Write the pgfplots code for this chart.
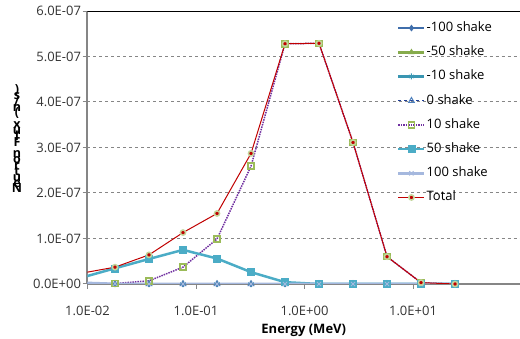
\documentclass[border=0pt]{standalone}
\usepackage{fontspec}
\setmainfont{Open Sans}
\usepackage{pgfplots}
\pgfplotsset{compat=1.18}
\definecolor{axgray}{HTML}{868686}
\definecolor{cA}{HTML}{3F6EAB}
\definecolor{cB}{HTML}{86AB4C}
\definecolor{cC}{HTML}{3A96B2}
\definecolor{cDline}{HTML}{1F3F99}
\definecolor{cDmark}{HTML}{4F81BD}
\definecolor{cEline}{HTML}{7030A0}
\definecolor{cEmark}{HTML}{9BBB59}
\definecolor{cF}{HTML}{4BACC6}
\definecolor{cG}{HTML}{A5B8DE}
\definecolor{cT}{HTML}{C00000}
\definecolor{cTring}{HTML}{C3D69B}
\begin{document}
\begin{tikzpicture}[x=1pt,y=1pt]
\useasboundingbox (0,0) rectangle (520,339);
\begin{axis}[
  at={(87.5pt,55pt)}, anchor=south west,
  scale only axis, width=432.5pt, height=273pt,
  xmode=log, xmin=0.01, xmax=96.8, ymin=0, ymax=6e-7,
  axis lines*=left,
  axis line style={draw=axgray, line width=2pt},
  xtick={0.01,0.1,1,10},
  xticklabels={1.0E-02,1.0E-01,1.0E+00,1.0E+01},
  ytick={0,1e-7,2e-7,3e-7,4e-7,5e-7,6e-7},
  yticklabels={0.0E+00,1.0E-07,2.0E-07,3.0E-07,4.0E-07,5.0E-07,6.0E-07},
  xminorticks=false, yminorticks=false,
  scaled y ticks=false,
  tick align=outside, major tick length=5pt,
  tick style={draw=axgray, line width=1pt},
  ticklabel style={font=\fontsize{13}{15}\selectfont, text=black!80},
  xticklabel style={yshift=-14pt},
  yticklabel style={xshift=2pt},
  ymajorgrids, grid style={dashed, draw=axgray, line width=1pt},
  xlabel={Energy (MeV)},
  xlabel style={font=\bfseries\fontsize{13}{15}\selectfont, yshift=-1pt},
  legend style={draw=none, fill=none, at={(axis description cs:0.7156,0.962)}, anchor=north west,
    inner sep=0pt, row sep=11.2pt, column sep=1pt,
    font=\fontsize{13}{15}\selectfont,
    nodes={inner sep=0pt, text height=10pt, text depth=3pt, anchor=west}},
  legend cell align=left,
  legend image code/.code={\draw[mark repeat=2,mark phase=2,#1] plot coordinates {(0pt,0pt) (13pt,0pt) (26pt,0pt)};},
]
% leading segments (first point lies left of the axis)
\addplot[cA, line width=2.5pt, forget plot] coordinates {(0.00871,0) (0.01793,0)};
\addplot[cB, line width=2.5pt, forget plot] coordinates {(0.00871,0) (0.01793,0)};
\addplot[cC, line width=2.5pt, forget plot] coordinates {(0.00871,0) (0.01793,0)};
\addplot[cDline, dashed, line width=1pt, forget plot] coordinates {(0.00871,0) (0.01793,0)};
\addplot[cEline, densely dotted, line width=1.5pt, forget plot] coordinates {(0.00871,0) (0.01793,0.01e-7)};
\addplot[cF, line width=2.5pt, forget plot] coordinates {(0.00871,0.136e-7) (0.01793,0.345e-7)};
\addplot[cG, line width=2.5pt, forget plot] coordinates {(0.00871,0.03e-7) (0.01793,0.005e-7)};
\addplot[cT, line width=1pt, forget plot] coordinates {(0.00871,0.235e-7) (0.01793,0.37e-7)};
% series
\addplot[cA, line width=2.5pt, mark=diamond*, mark size=3pt, mark options={solid, fill=cA, line width=0.5pt}] coordinates {
(0.01793,0) (0.03689,0) (0.07591,0) (0.1562,0) (0.3214,0) (0.6613,0) (1.3607,0) (2.800,0) (5.761,0) (11.85,0) (24.39,0)};
\addlegendentry{-100 shake}
\addplot[cB, line width=2.5pt, mark=triangle*, mark size=3.2pt, mark options={solid, fill=cB, line width=0.5pt}] coordinates {
(0.01793,0) (0.03689,0) (0.07591,0) (0.1562,0) (0.3214,0) (0.6613,0) (1.3607,0) (2.800,0) (5.761,0) (11.85,0) (24.39,0)};
\addlegendentry{-50 shake}
\addplot[cC, line width=2.5pt, mark=asterisk, mark size=3pt, mark options={solid, line width=1pt}] coordinates {
(0.01793,0) (0.03689,0) (0.07591,0) (0.1562,0) (0.3214,0) (0.6613,0) (1.3607,0) (2.800,0) (5.761,0) (11.85,0) (24.39,0)};
\addlegendentry{-10 shake}
\addplot[cDline, dashed, line width=1pt, mark=triangle, mark size=3.2pt, mark options={solid, draw=cDmark, line width=1pt}] coordinates {
(0.01793,0) (0.03689,0) (0.07591,0) (0.1562,0) (0.3214,0) (0.6613,0) (1.3607,0) (2.800,0) (5.761,0) (11.85,0) (24.39,0)};
\addlegendentry{0 shake}
\addplot[cEline, densely dotted, line width=1.5pt, mark=square, mark size=3pt, mark options={solid, draw=cEmark, fill=white, line width=1.5pt}] coordinates {
(0.01793,0.01e-7) (0.03689,0.07e-7) (0.07591,0.37e-7) (0.1562,0.99e-7) (0.3214,2.59e-7) (0.6613,5.28e-7) (1.3607,5.29e-7) (2.800,3.11e-7) (5.761,0.60e-7) (11.85,0.03e-7) (24.39,0)};
\addlegendentry{10 shake}
\addplot[cF, line width=2.5pt, mark=square*, mark size=3.5pt, mark options={solid, fill=cF, line width=0.5pt}] coordinates {
(0.01793,0.345e-7) (0.03689,0.55e-7) (0.07591,0.75e-7) (0.1562,0.56e-7) (0.3214,0.26e-7) (0.6613,0.04e-7) (1.3607,0) (2.800,0) (5.761,0) (11.85,0) (24.39,0)};
\addlegendentry{50 shake}
\addplot[cG, line width=2.5pt, mark=x, mark size=3pt, mark options={solid, line width=1pt}] coordinates {
(0.01793,0.005e-7) (0.03689,0) (0.07591,0) (0.1562,0) (0.3214,0) (0.6613,0) (1.3607,0) (2.800,0) (5.761,0) (11.85,0) (24.39,0)};
\addlegendentry{100 shake}
\addplot[cT, line width=1pt, mark=*, mark size=2.6pt, mark options={solid, fill=cT, draw=cTring, line width=1.5pt}] coordinates {
(0.01793,0.37e-7) (0.03689,0.64e-7) (0.07591,1.13e-7) (0.1562,1.55e-7) (0.3214,2.87e-7) (0.6613,5.28e-7) (1.3607,5.29e-7) (2.800,3.11e-7) (5.761,0.60e-7) (11.85,0.03e-7) (24.39,0)};
\addlegendentry{Total}
\draw[black, line width=1.5pt] (rel axis cs:0,1) -- (rel axis cs:1,1);
\end{axis}
\foreach \c [count=\i] in {N,e,u,t,r,o,n,{},F,l,u,x,{},{(},n,/,s,{)}}
  \node[font=\bfseries\fontsize{12.5}{13}\selectfont, anchor=base, inner sep=0pt] at (17, {146 + (\i-1)*5.85}) {\c};
\end{tikzpicture}
\end{document}
